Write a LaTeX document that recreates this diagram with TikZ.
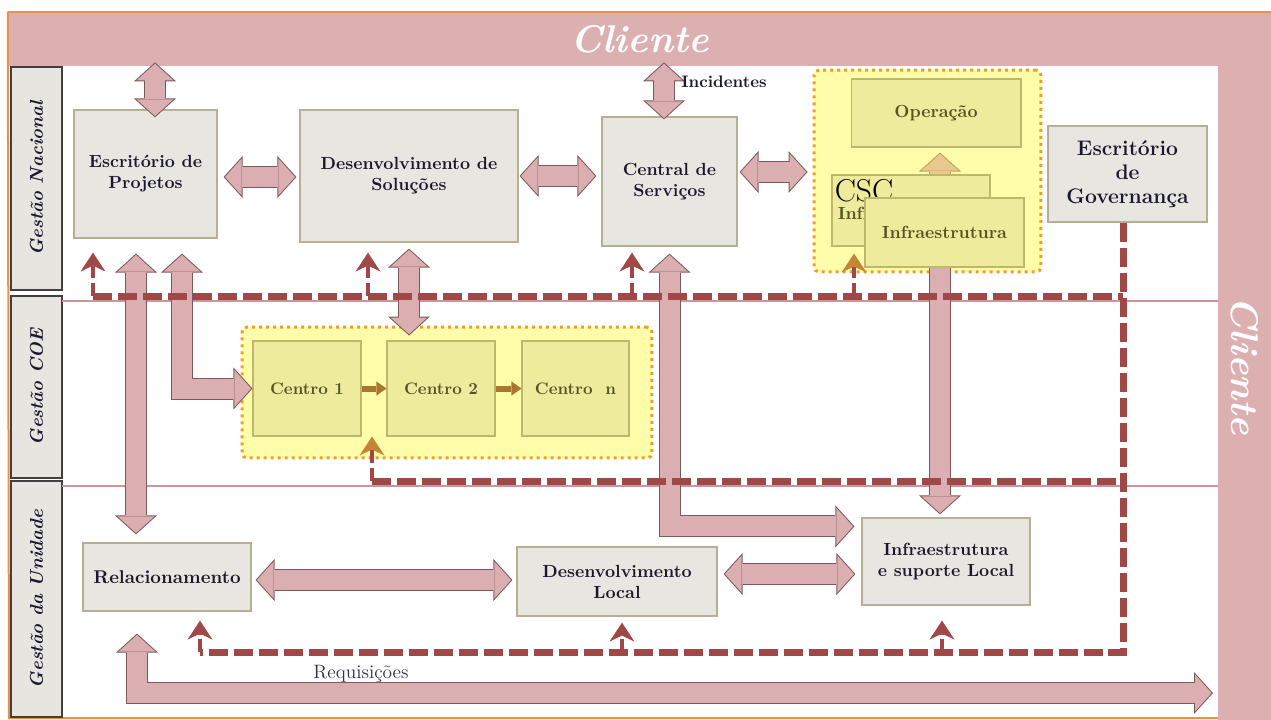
\documentclass[tikz,border=0pt]{standalone}
\usepackage{tikz}
\usetikzlibrary{arrows.meta}

\definecolor{bandpink}{RGB}{220,176,177}
\definecolor{frameor}{RGB}{233,145,75}
\definecolor{lanegray}{RGB}{230,229,224}
\definecolor{boxgray}{RGB}{232,230,225}
\definecolor{boxedge}{RGB}{184,174,148}
\definecolor{boxtext}{RGB}{25,25,45}
\definecolor{grpyellow}{RGB}{255,252,170}
\definecolor{grpdot}{RGB}{240,160,30}
\definecolor{cellyellow}{RGB}{238,235,156}
\definecolor{celledge}{RGB}{190,184,110}
\definecolor{celltext}{RGB}{85,85,35}
\definecolor{arrfill}{RGB}{219,175,177}
\definecolor{arrline}{RGB}{125,88,90}
\definecolor{tanfill}{RGB}{232,200,140}
\definecolor{tanline}{RGB}{196,156,90}
\definecolor{govred}{RGB}{160,72,72}
\definecolor{tipor}{RGB}{196,134,52}
\definecolor{smallarr}{RGB}{168,118,46}
\definecolor{sepline}{RGB}{205,150,150}
\definecolor{reqtext}{RGB}{45,48,80}

\begin{document}
\begin{tikzpicture}[x=0.02cm,y=-0.02cm,
		innr/.tip={Triangle[width=0.736cm,length=0.333cm,line width=0pt]},
		outr/.tip={Triangle[width=0.84cm,length=0.38cm,line width=0pt]},
		gtip/.tip={Stealth[width=0.5cm,length=0.38cm,inset=0.12cm,line width=0pt]},
		otip/.tip={Stealth[width=0.5cm,length=0.38cm,inset=0.12cm,line width=0pt,color=tipor]},
		ctip/.tip={Triangle[width=0.28cm,length=0.2cm,line width=0pt]},
		band/.style={fill=bandpink,inner sep=0pt,text=white,font=\fontsize{22}{24}\selectfont\bfseries\itshape},
		frameline/.style={draw=frameor,line width=0.04cm},
		lane/.style={draw=black!75,line width=0.7pt,fill=lanegray,minimum height=1.02cm,inner sep=0pt,rotate=90,text=boxtext,font=\fontsize{10.5}{12}\selectfont\bfseries\itshape},
		sepline/.style={draw=sepline,line width=0.6pt},
		gbox/.style={draw=boxedge,line width=0.7pt,fill=boxgray,inner sep=2pt,align=center,text=boxtext,font=\fontsize{10}{12}\selectfont\bfseries},
		grp/.style={draw=grpdot,fill=grpyellow,line width=0.06cm,dash pattern=on 0.06cm off 0.08cm,rounded corners=0.1cm,inner sep=0pt},
		cell/.style={draw=celledge,line width=0.6pt,fill=cellyellow,inner sep=0pt,align=center,text=celltext,font=\fontsize{10}{12}\selectfont\bfseries},
		bigboth/.style={draw=arrfill,line width=0.4cm,line join=miter,innr-innr,shorten <=0.027cm,shorten >=0.027cm,preaction={draw=arrline,line width=0.44cm,line join=miter,outr-outr,shorten <=0pt,shorten >=0pt}},
		bigone/.style={draw=arrfill,line width=0.4cm,line join=miter,-innr,shorten >=0.027cm,preaction={draw=arrline,line width=0.44cm,line join=miter,-outr,shorten >=0pt}},
		tanone/.style={draw=tanfill,line width=0.4cm,line join=miter,-innr,shorten >=0.027cm,preaction={draw=tanline,line width=0.44cm,line join=miter,-outr,shorten >=0pt}},
		cenarr/.style={draw=smallarr,line width=0.12cm,-ctip},
		govline/.style={draw=govred,line width=0.14cm,dash pattern=on 0.38cm off 0.12cm},
		govup/.style={draw=govred,line width=0.09cm,dash pattern=on 0.26cm off 0.1cm,-gtip},
		govupor/.style={draw=govred,line width=0.09cm,dash pattern=on 0.26cm off 0.1cm,-otip}]
	\fill[white] (0,0) rectangle (1271,720);
	\useasboundingbox (0,0) rectangle (1271,720);

	\node[band,minimum width=25.26cm,minimum height=1.08cm] (clitop) at (639.5,39) {Cliente};
	\node[band,minimum width=14.16cm,minimum height=1.06cm,rotate=-90] (cliright) at (1244.5,366) {Cliente};
	\draw[frameline] (clitop.north west) -- (clitop.north east);
	\draw[frameline] (clitop.north west) -- (9,718) -- (1218,718);

	\node[lane,minimum width=4.46cm] (gn) at (36.5,178.5) {Gestão Nacional};
	\node[lane,minimum width=3.64cm] (gc) at (36.5,387) {Gestão COE};
	\node[lane,minimum width=4.72cm] (gu) at (36.5,599) {Gestão da Unidade};
	\draw[sepline] (62,301) -- (1218,301);
	\draw[sepline] (62,486) -- (1218,486);

	\node[grp,minimum width=4.54cm,minimum height=4.04cm] (csc) at (927.5,171) {};
	\node[grp,minimum width=8.2cm,minimum height=2.62cm] (coe) at (447,392.5) {};

	\node[gbox,minimum width=2.86cm,minimum height=2.56cm] (ep) at (145.5,174) {Escritório de\\Projetos};
	\node[gbox,minimum width=4.36cm,minimum height=2.64cm] (ds) at (409,176) {Desenvolvimento de\\Soluções};
	\node[gbox,minimum width=2.7cm,minimum height=2.58cm] (cs) at (669.5,181.5) {Central de\\Serviços};
	\node[gbox,minimum width=3.18cm,minimum height=1.92cm,font=\fontsize{12}{13.5}\selectfont\bfseries] (gov) at (1127.5,174) {Escritório\\de\\Governança};
	\node[cell,minimum width=3.4cm,minimum height=1.36cm] (op) at (936,113) {Operação};
	\node[cell,minimum width=3.16cm,minimum height=1.42cm] (cscb) at (911,210.5) {};
	\node[anchor=north west,inner sep=0pt,font=\fontsize{18}{18}\selectfont] (csct) at ([shift={(0.06cm,-0.1cm)}]cscb.north west) {CSC};
	\node[anchor=north west,inner sep=0pt,text=celltext,font=\fontsize{10}{12}\selectfont\bfseries] (csci) at ([shift={(0.12cm,-0.64cm)}]cscb.north west) {Infraestrutura};
	\node[cell,minimum width=3.18cm,minimum height=1.38cm] (infra) at (944.5,232.5) {Infraestrutura};
	\node[cell,minimum width=2.16cm,minimum height=1.9cm,font=\fontsize{9.5}{11}\selectfont\bfseries] (c1) at (307,388.5) {Centro 1};
	\node[cell,minimum width=2.16cm,minimum height=1.9cm,font=\fontsize{9.5}{11}\selectfont\bfseries] (c2) at (441,388.5) {Centro 2};
	\node[cell,minimum width=2.14cm,minimum height=1.9cm,font=\fontsize{9.5}{11}\selectfont\bfseries] (cn) at (575.5,388.5) {Centro\ \ n};
	\node[gbox,minimum width=3.36cm,minimum height=1.36cm,font=\fontsize{10.5}{12}\selectfont\bfseries] (rel) at (167,577) {Relacionamento};
	\node[gbox,minimum width=4cm,minimum height=1.38cm] (dl) at (617,581.5) {Desenvolvimento\\Local};
	\node[gbox,minimum width=3.36cm,minimum height=1.74cm] (isl) at (946,561.5) {Infraestrutura\\e suporte Local};
	\coordinate (reqend) at (1213,693);

	\draw[cenarr] (c1.east) -- (c2.west);
	\draw[cenarr] (c2.east) -- (cn.west);
	\draw[tanone] ([xshift=0.08cm]op.south |- cscb.north) -- ([xshift=0.08cm,yshift=-0.1cm]op.south);

	\draw[bigboth] ([xshift=0.19cm,yshift=-0.16cm]ep.north) -- ([xshift=0.19cm,yshift=0.08cm]ep.north |- clitop.south);
	\draw[bigboth] ([xshift=0.12cm,yshift=-0.06cm]ep.east) -- ([xshift=-0.06cm,yshift=-0.06cm]ep.east -| ds.west);
	\draw[bigboth] ([xshift=0.02cm]ds.east) -- ([xshift=-0.1cm]ds.east -| cs.west);
	\draw[bigboth] ([xshift=-0.11cm,yshift=-0.06cm]cs.north) -- ([xshift=-0.11cm,yshift=0.08cm]cs.north |- clitop.south);
	\draw[bigboth] ([xshift=0.04cm,yshift=0.19cm]cs.east) -- ([xshift=-0.1cm,yshift=0.19cm]cs.east -| csc.west);
	\draw[bigboth] ([xshift=-0.19cm,yshift=-0.3cm]ep.south) -- ([xshift=-0.19cm,yshift=0.16cm]ep.south |- rel.north);
	\draw[bigboth] ([xshift=0.73cm,yshift=-0.3cm]ep.south) |- (c1.west);
	\draw[bigboth] ([yshift=-0.12cm]ds.south) -- ([yshift=-0.2cm]ds.south |- coe.north);
	\draw[bigboth] ([yshift=-0.14cm]cs.south) |- ([xshift=-0.14cm,yshift=-0.18cm]isl.north west);
	\draw[bigone] ([xshift=-0.09cm]infra.south) -- ([xshift=-0.09cm,yshift=0.06cm]infra.south |- isl.north);
	\draw[bigboth] ([xshift=0.08cm,yshift=-0.06cm]rel.east) -- ([xshift=-0.08cm,yshift=-0.06cm]rel.east -| dl.west);
	\draw[bigboth] ([xshift=0.12cm,yshift=0.15cm]dl.east) -- ([xshift=-0.12cm,yshift=0.15cm]dl.east -| isl.west);
	\draw[bigboth] ([xshift=-0.6cm,yshift=-0.44cm]rel.south) |- (reqend);

	\coordinate (nacL) at (93,296);
	\coordinate (nacR) at (1123,296);
	\coordinate (coeL) at (372,481);
	\coordinate (coeR) at (1123,481);
	\coordinate (uniL) at (200,652);
	\coordinate (sDS) at (368,296);
	\coordinate (sCS) at (632,296);
	\coordinate (sCSC) at (854,296);
	\coordinate (sDL) at (622,652);
	\coordinate (sISL) at (942,652);
	\draw[govline] ([xshift=-0.09cm]gov.south) |- (uniL);
	\draw[govline] (nacL) -- (nacR);
	\draw[govline] (coeL) -- (coeR);
	\draw[govup,shorten >=0.28cm] (nacL) -- (nacL |- ep.south);
	\draw[govup,shorten >=0.2cm] (sDS) -- (sDS |- ds.south);
	\draw[govup,shorten >=0.12cm] (sCS) -- (sCS |- cs.south);
	\draw[govupor,shorten >=0.14cm] (sCSC) -- (sCSC |- cscb.south);
	\draw[govupor] (coeL) -- (coeL |- c1.south);
	\draw[govup,shorten >=0.18cm] (uniL) -- (uniL |- rel.south);
	\draw[govup,shorten >=0.12cm] (sDL) -- (sDL |- dl.south);
	\draw[govup,shorten >=0.3cm] (sISL) -- (sISL |- isl.south);

	\node[text=boxtext,font=\fontsize{9.5}{11}\selectfont\bfseries] (inc) at (724,82) {Incidentes};
	\node[text=reqtext,font=\fontsize{11}{13}\selectfont] (req) at (361,674) {Requisições};
\end{tikzpicture}
\end{document}
